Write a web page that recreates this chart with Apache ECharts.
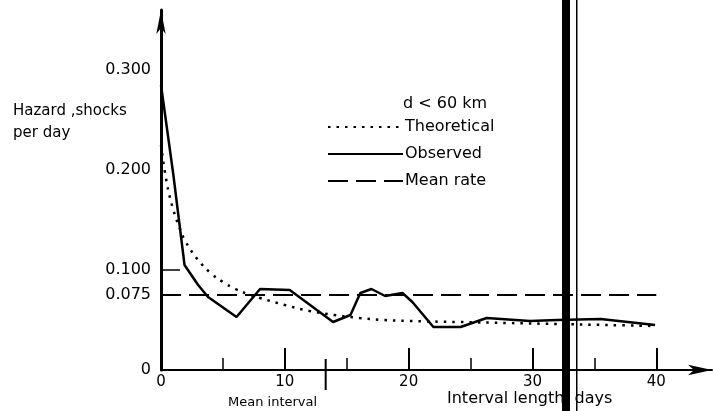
<!DOCTYPE html>
<html>
<head>
<meta charset="utf-8">
<script src="https://cdn.jsdelivr.net/npm/echarts@6/dist/echarts.min.js"></script>
<style>
html,body{margin:0;padding:0;background:#fff;}
#chart{width:713px;height:411px;}
</style>
</head>
<body>
<div id="chart"></div>
<script>
// ---- data ----
const theoretical = [
  [0, 0.225], [0.5, 0.185], [1, 0.16], [1.5, 0.142], [2, 0.128], [3, 0.11],
  [4, 0.097], [5, 0.088], [6, 0.081], [7, 0.076], [8, 0.072], [10, 0.065],
  [12, 0.059], [14, 0.055], [16, 0.052], [18, 0.05], [20, 0.049], [24, 0.048],
  [28, 0.047], [32, 0.046], [36, 0.045], [40, 0.044]
];
const observed = [
  [0, 0.285], [1, 0.195], [1.9, 0.105], [3, 0.085], [3.8, 0.073], [6.1, 0.053],
  [8, 0.081], [10.4, 0.08], [13.9, 0.048], [15.3, 0.055], [16.1, 0.077],
  [17, 0.081], [18.1, 0.074], [19.5, 0.077], [20.3, 0.068], [22, 0.043],
  [24.2, 0.043], [26.3, 0.052], [29.8, 0.049], [32, 0.05], [35.5, 0.051],
  [39.9, 0.045]
];
const meanRate = [[0, 0.075], [40, 0.075]];
const meanInterval = 13.3;
const meanIntervalMark = [[meanInterval, -0.02], [meanInterval, 0.011]];
const xMajorTicks = [10, 20, 30, 40];
const xMinorTicks = [5, 15, 25, 35];
const xTickLabels = [0, 10, 20, 30, 40];
const yTickValues = [0, 0.075, 0.1, 0.2, 0.3];
const yTickLabels = ['0', '0.075', '0.100', '0.200', '0.300'];
const seriesNames = ['Theoretical', 'Observed', 'Mean rate'];

const FONT = 'DejaVu Sans';
const chart = echarts.init(document.getElementById('chart'), null, {renderer: 'canvas'});
const option = {
  backgroundColor: '#fff',
  animation: false,
  textStyle: {fontFamily: FONT, color: '#000'},
  grid: {left: 161, right: 1, top: 10, bottom: 41},
  legend: {
    data: seriesNames,
    orient: 'vertical',
    left: 322,
    top: 114,
    itemWidth: 75,
    itemHeight: 14,
    itemGap: 11,
    itemStyle: {opacity: 0},
    textStyle: {fontFamily: FONT, fontSize: 16, color: '#000', lineHeight: 14, padding: [0, 0, 0, -3]},
    selectedMode: false
  },
  xAxis: [
    {
      type: 'value', min: 0, max: 44.5, interval: 10,
      splitLine: {show: false},
      axisLine: {show: true, onZero: false, symbol: ['none', 'arrow'], symbolSize: [8, 24],
        lineStyle: {color: '#000', width: 2}},
      axisTick: {show: true, inside: true, length: 22, customValues: xMajorTicks,
        lineStyle: {color: '#000', width: 2}},
      axisLabel: {customValues: xTickLabels, margin: 5, fontSize: 15, color: '#000', fontFamily: FONT}
    },
    {
      type: 'value', min: 0, max: 44.5, interval: 10, position: 'bottom',
      splitLine: {show: false},
      axisLine: {show: false},
      axisTick: {show: true, inside: true, length: 12, customValues: xMinorTicks,
        lineStyle: {color: '#000', width: 1.5}},
      axisLabel: {show: false}
    }
  ],
  yAxis: {
    type: 'value', min: 0, max: 0.36,
    splitLine: {show: false},
    axisLine: {show: true, symbol: ['none', 'arrow'], symbolSize: [7, 24],
      lineStyle: {color: '#000', width: 3}},
    axisTick: {show: true, inside: true, length: 19, customValues: [0.1],
      lineStyle: {color: '#000', width: 1.5}},
    axisLabel: {
      customValues: yTickValues, margin: 10, fontSize: 16, color: '#000', fontFamily: FONT,
      formatter: function (v) {
        const i = yTickValues.findIndex(t => Math.abs(t - v) < 1e-9);
        return i >= 0 ? yTickLabels[i] : '';
      }
    }
  },
  series: [
    {
      name: seriesNames[0], type: 'line', data: theoretical, smooth: 0.4,
      symbol: 'none', lineStyle: {color: '#000', width: 2.5, type: [2.5, 6]}, itemStyle: {color: '#000'}
    },
    {
      name: seriesNames[1], type: 'line', data: observed, smooth: false,
      symbol: 'none', lineStyle: {color: '#000', width: 2.5}, itemStyle: {color: '#000'}
    },
    {
      name: seriesNames[2], type: 'line', data: meanRate,
      symbol: 'none', lineStyle: {color: '#000', width: 2, type: [20, 8]}, itemStyle: {color: '#000'}
    },
    {
      name: 'meanInterval', type: 'line', data: meanIntervalMark, clip: false,
      symbol: 'none', lineStyle: {color: '#000', width: 2}, silent: true
    }
  ],
  graphic: [
    {type: 'text', left: 403, top: 96, style: {text: 'd < 60 km', font: '16px "DejaVu Sans"', fill: '#000'}},
    {type: 'text', left: 13, top: 104, style: {text: 'Hazard ,shocks', font: '15px "DejaVu Sans"', fill: '#000'}},
    {type: 'text', left: 13, top: 126, style: {text: 'per day', font: '15px "DejaVu Sans"', fill: '#000'}},
    {type: 'text', left: 228, top: 396, style: {text: 'Mean interval', font: '13px "DejaVu Sans"', fill: '#000'}},
    {type: 'text', left: 447, top: 391, style: {text: 'Interval length, days', font: '16px "DejaVu Sans"', fill: '#000'}},
    {type: 'rect', left: 562, top: 0, z: 100, shape: {width: 8, height: 411}, style: {fill: '#000'}},
    {type: 'rect', left: 576, top: 0, z: 100, shape: {width: 1.5, height: 411}, style: {fill: '#000'}}
  ]
};
chart.setOption(option);
</script>
</body>
</html>
